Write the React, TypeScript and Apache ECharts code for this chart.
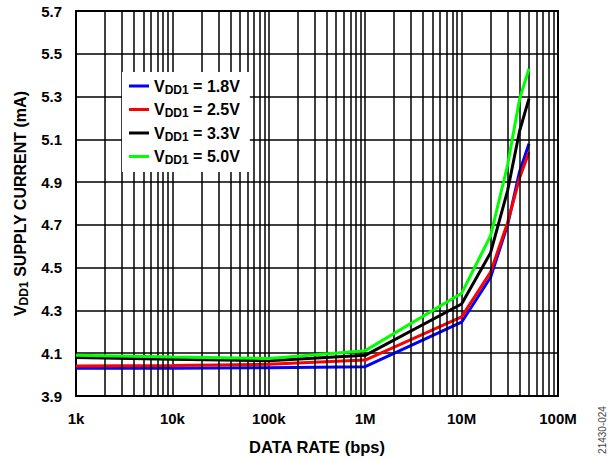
import React, { useEffect, useRef } from "react";
import * as echarts from "echarts";

const dataRates = [1000, 10000, 100000, 1000000, 10000000, 20000000, 30000000, 40000000, 50000000];
const seriesNames = ["1.8V", "2.5V", "3.3V", "5.0V"];
const seriesColors = ["#0000ff", "#ff0000", "#000000", "#00ff00"];
const vdd18 = [4.03, 4.03, 4.032, 4.037, 4.245, 4.455, 4.7, 4.95, 5.08];
const vdd25 = [4.04, 4.043, 4.048, 4.068, 4.27, 4.48, 4.71, 4.92, 5.04];
const vdd33 = [4.08, 4.072, 4.065, 4.09, 4.33, 4.57, 4.86, 5.14, 5.29];
const vdd50 = [4.09, 4.082, 4.075, 4.112, 4.38, 4.65, 4.98, 5.29, 5.43];
const seriesValues = [vdd18, vdd25, vdd33, vdd50];
const xTickLabels: Record<string, string> = {
  "1000": "1k",
  "10000": "10k",
  "100000": "100k",
  "1000000": "1M",
  "10000000": "10M",
  "100000000": "100M",
};
const minorGridValues: number[] = [];
for (let d = 1000; d < 1e8; d *= 10) {
  for (let m = 2; m <= 9; m++) minorGridValues.push(m * d);
}

const FONT = "'Liberation Sans', Arial, sans-serif";

export default function App() {
  const ref = useRef<HTMLDivElement>(null);
  useEffect(() => {
    if (!ref.current) return;
    const chart = echarts.init(ref.current, null, { renderer: "svg" });
    const legendName = (n: string) => "VDD1 = " + n;
    const series: any[] = seriesValues.map((vals, i) => ({
      name: legendName(seriesNames[i]),
      type: "line",
      data: dataRates.map((x, j) => [x, vals[j]]),
      showSymbol: false,
      symbol: "none",
      lineStyle: { color: seriesColors[i], width: 3 },
      itemStyle: { color: seriesColors[i] },
      z: 3 + i,
    }));
    series.unshift({
      name: "grid-minor",
      type: "line",
      data: [],
      z: 1,
      silent: true,
      markLine: {
        silent: true,
        symbol: ["none", "none"],
        label: { show: false },
        lineStyle: { color: "#000", width: 1.5, type: "solid" },
        data: minorGridValues.map((v) => ({ xAxis: v })),
      },
    });
    const richText = {
      v: { fontSize: 16, fontWeight: "bold", fontFamily: FONT, color: "#000", lineHeight: 19, verticalAlign: "middle" },
      s: { fontSize: 12, fontWeight: "bold", fontFamily: FONT, color: "#000", lineHeight: 12, verticalAlign: "bottom" },
    };
    chart.setOption({
      animation: false,
      grid: {
        left: 76,
        top: 11,
        width: 482,
        height: 385,
        show: true,
        borderColor: "#000",
        borderWidth: 2,
      },
      legend: {
        data: seriesNames.map(legendName),
        orient: "vertical",
        left: 122,
        top: 72,
        backgroundColor: "#fff",
        padding: [6, 10, 6, 7],
        itemWidth: 20,
        itemHeight: 3,
        itemGap: 6,
        icon: "rect",
        selectedMode: false,
        formatter: (name: string) => {
          const v = name.replace("VDD1 = ", "");
          return "{v|V}{s|DD1}{v| = " + v + "}";
        },
        textStyle: { rich: richText },
        z: 10,
      },
      xAxis: {
        type: "log",
        logBase: 10,
        min: 1000,
        max: 100000000,
        name: "DATA RATE (bps)",
        nameLocation: "middle",
        nameGap: 42,
        nameTextStyle: { fontSize: 16.5, fontWeight: "bold", fontFamily: FONT, color: "#000" },
        axisLine: { show: true, lineStyle: { color: "#000", width: 2 } },
        axisTick: { show: false },
        axisLabel: {
          margin: 15,
          fontSize: 15,
          fontWeight: "bold",
          fontFamily: FONT,
          color: "#000",
          formatter: (v: number) => xTickLabels[String(Math.round(v))] ?? "",
        },
        splitLine: { show: true, lineStyle: { color: "#000", width: 1.5 } },
        minorTick: { show: false },
      },
      yAxis: {
        type: "value",
        min: 3.9,
        max: 5.7,
        interval: 0.2,
        name: "{v|V}{s|DD1}{v| SUPPLY CURRENT (mA)}",
        nameLocation: "middle",
        nameRotate: 90,
        nameGap: 46,
        nameTextStyle: { rich: richText },
        axisLine: { show: true, lineStyle: { color: "#000", width: 2 } },
        axisTick: { show: false },
        axisLabel: {
          margin: 14,
          fontSize: 15,
          fontWeight: "bold",
          fontFamily: FONT,
          color: "#000",
          formatter: (v: number) => v.toFixed(1),
        },
        splitLine: { show: true, lineStyle: { color: "#000", width: 1.5 } },
      },
      graphic: [
        {
          type: "text",
          x: 602,
          y: 430,
          rotation: Math.PI / 2,
          style: {
            text: "21430-024",
            fontSize: 10,
            fontFamily: FONT,
            fill: "#444",
            align: "center",
            verticalAlign: "middle",
          },
        },
      ],
      series,
    });
    return () => chart.dispose();
  }, []);
  return (
    <div
      ref={ref}
      style={{ position: "fixed", left: 0, top: 0, width: 608, height: 461, background: "#fff" }}
    />
  );
}
